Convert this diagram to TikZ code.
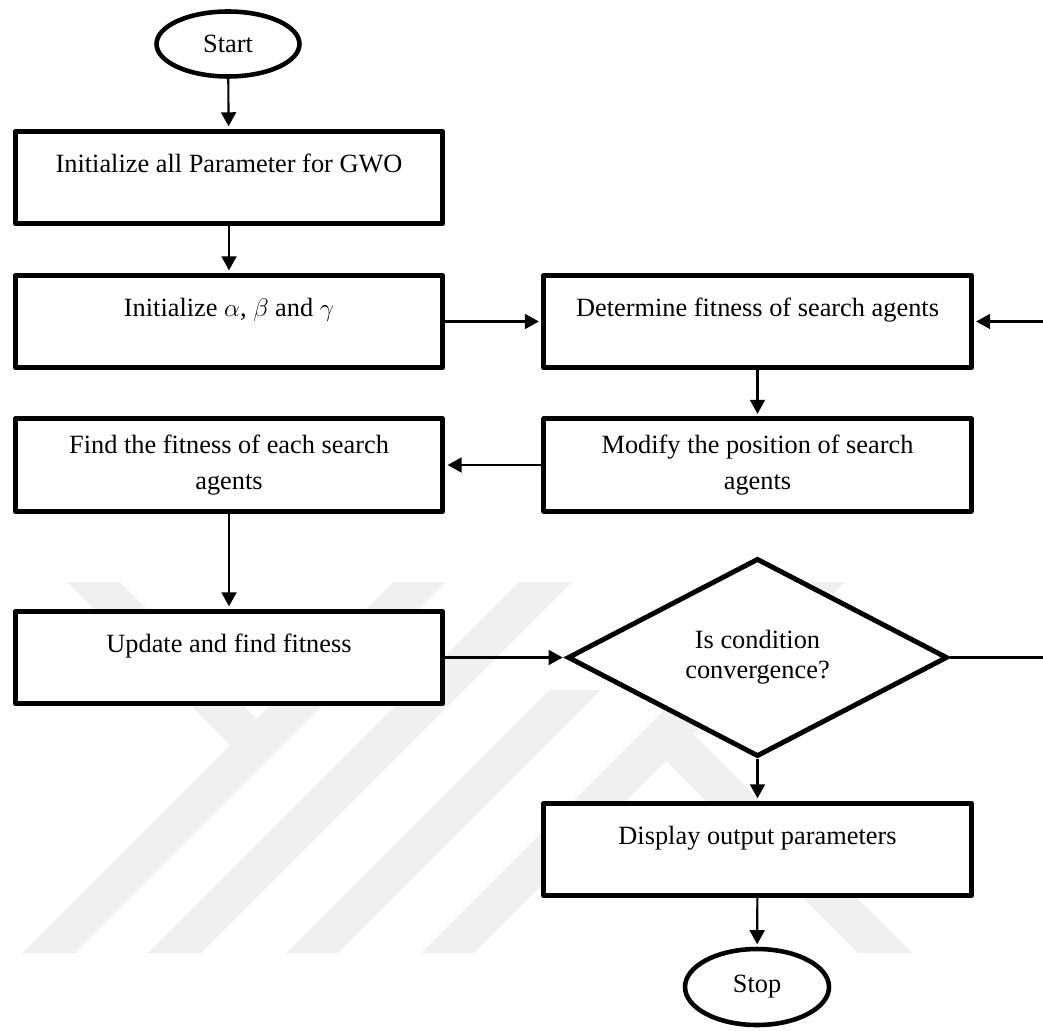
\documentclass[tikz,border=0pt]{standalone}
\usepackage{fontspec}
\setmainfont{Liberation Serif}
\usetikzlibrary{shapes.geometric,arrows.meta}

\begin{document}
\begin{tikzpicture}[x=0.02cm,y=-0.02cm,
  every node/.style={font=\fontsize{15pt}{20pt}\selectfont},
  box/.style={draw, line width=2.8pt, fill=white, line join=round,
    minimum width=8.55cm, minimum height=1.85cm, inner sep=0pt, align=center},
  oneline/.style={text height=10.5pt, text depth=16.7pt},
  terminal/.style={ellipse, draw, line width=2.6pt, fill=white, inner sep=0pt},
  decision/.style={diamond, draw, line width=2.8pt, fill=white,
    minimum width=7.6cm, minimum height=3.7cm, inner sep=0pt, align=center,
    font=\fontsize{15pt}{17pt}\selectfont},
  arrowline/.style={line width=1.2pt, -{Triangle[width=8.5pt,length=8pt]}, shorten >=1.4pt},
  wmark/.style={fill=black!6, draw=none}
]
\useasboundingbox (0,0) rectangle (1043,1030);
\clip (0,0) rectangle (1043,1030);

% faint background emblem
\fill[wmark] (67,582) -- (120,582) -- (283,745) -- (230,745) -- cycle;
\fill[wmark] (393,582) -- (446,582) -- (75,953) -- (22,953) -- cycle;
\fill[wmark] (519,582) -- (572,582) -- (201,953) -- (148,953) -- cycle;
\fill[wmark] (549,690) -- (601,690) -- (338,953) -- (286,953) -- cycle;
\fill[wmark] (792,582) -- (845,582) -- (474,953) -- (421,953) -- cycle;
\fill[wmark] (640,735) -- (693,734) -- (912,953) -- (858,953) -- cycle;

% terminals
\node[terminal, minimum width=2.86cm, minimum height=1.3cm] (start) at (228,44) {Start};
\node[terminal, minimum width=2.88cm, minimum height=1.52cm] (stop) at (757,987) {Stop};

% left column
\node[box, oneline] (init) at (229,177.5) {Initialize all Parameter for GWO};
\node[box, oneline] (greek) at (229,321.5) {Initialize $\alpha$, $\beta$ and $\gamma$};
\node[box] (find) at (229,465) {Find the fitness of each search\\agents};
\node[box, oneline] (update) at (229,657.5) {Update and find fitness};

% right column
\node[box, oneline] (det) at (757.5,321.5) {Determine fitness of search agents};
\node[box] (modify) at (757.5,465) {Modify the position of search\\agents};
\node[decision] (conv) at (757.5,657.5) {Is condition\\convergence?};
\node[box, oneline] (disp) at (757.5,849.5) {Display output parameters};

% loop-back column beyond the right margin
\coordinate (loopx) at (1052,0);

% connectors
\draw[arrowline] (start) -- (init);
\draw[arrowline] (init) -- (greek);
\draw[arrowline] (greek) -- (det);
\draw[arrowline] (det) -- (modify);
\draw[arrowline] (modify) -- (find);
\draw[arrowline] (find) -- (update);
\draw[arrowline] (update) -- (conv);
\draw[arrowline] (conv) -- (disp);
\draw[arrowline] (disp) -- (stop);
\draw[arrowline] (conv.east) -- (conv.east -| loopx) -- (det.east -| loopx) -- (det.east);
\end{tikzpicture}
\end{document}
